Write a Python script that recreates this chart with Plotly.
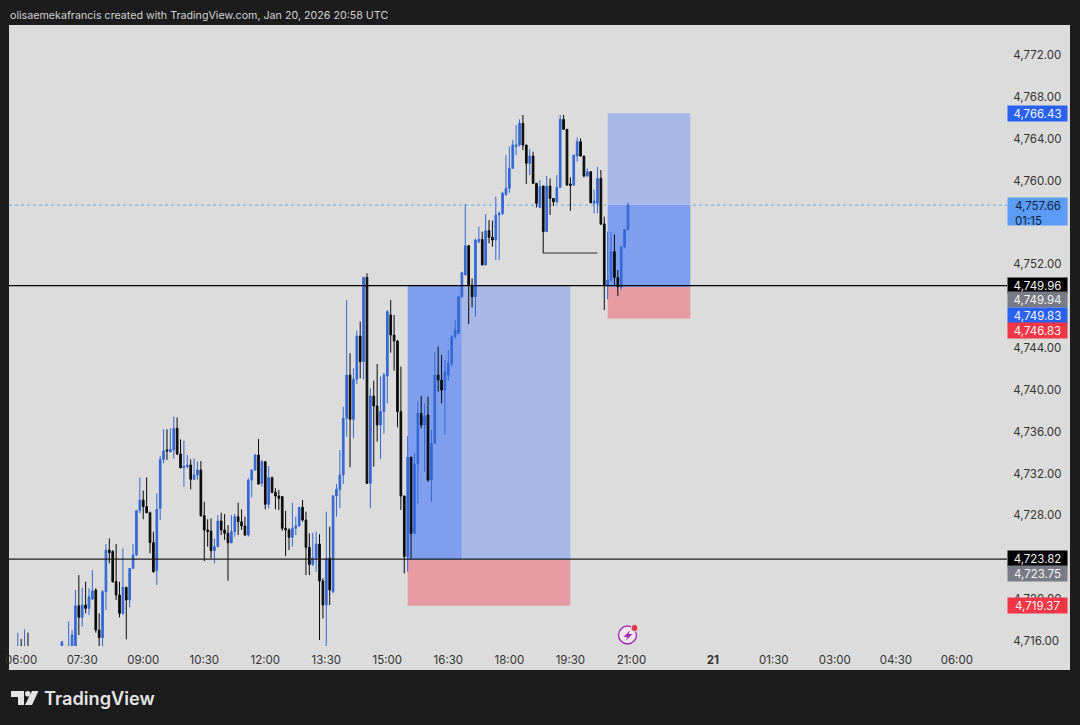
import pandas as pd
import plotly.graph_objects as go

# 5-minute bars, first one is 05:55 on Jan 20, last one 20:55. None = bar sits below the pane
bar_start = "2026-01-20 05:55"
opens = [
    4714.5, 4715.5, 4714.6, 4715.4, None, None, None, None, None, None, None, None, None,
    4715.0, None, 4715.0, 4715.0, 4715.5, 4719.37, 4718.26, 4719.44, 4719.12, 4720.01,
    4720.87, 4717.05, 4716.32, 4720.71, 4724.69, 4724.54, 4721.67, 4720.39, 4718.64, 4721.13,
    4719.92, 4722.94, 4724.22, 4728.45, 4729.47, 4728.84, 4728.26, 4725.40, 4722.72, 4728.68,
    4733.36, 4734.25, 4734.09, 4734.25, 4736.32, 4733.87, 4732.56, 4732.66, 4732.82, 4731.45,
    4731.86, 4732.34, 4727.98, 4726.61, 4726.51, 4724.63, 4725.01, 4727.47, 4726.61, 4726.29,
    4725.39, 4726.45, 4727.88, 4727.40, 4726.99, 4726.13, 4731.38, 4732.34, 4733.77, 4731.07,
    4733.14, 4729.06, 4731.61, 4730.21, 4729.86, 4729.79, 4726.77, 4726.61, 4725.91, 4726.77,
    4726.99, 4728.77, 4727.56, 4724.95, 4723.32, 4723.90, 4725.27, 4721.73, 4719.44, 4723.90,
    4720.71, 4729.86, 4730.49, 4731.86, 4737.28, 4741.42, 4737.18, 4741.00, 4745.15, 4742.69,
    4750.75, 4731.07, 4739.41, 4738.46, 4736.64, 4737.92, 4741.32, 4747.15, 4745.24, 4744.67,
    4737.92, 4729.86, 4724.06, 4733.55, 4726.29, 4732.91, 4737.76, 4736.64, 4737.60, 4731.38,
    4734.89, 4741.42, 4740.94, 4739.98, 4741.42, 4742.53, 4745.08, 4745.40, 4748.90, 4750.98,
    4753.78, 4750.02, 4748.90, 4754.16, 4754.38, 4751.93, 4755.21, 4754.58, 4754.32, 4756.71,
    4756.87, 4758.62, 4759.26, 4761.17, 4763.24, 4763.40, 4765.47, 4763.40, 4761.65, 4762.35,
    4759.74, 4757.44, 4759.48, 4755.12, 4759.48, 4758.30, 4757.98, 4759.35, 4765.85, 4764.90,
    4759.67, 4759.58, 4762.35, 4763.72, 4762.35, 4760.44, 4760.85, 4757.82, 4757.82, 4760.21,
    4755.85, 4750.02, 4750.50, 4753.21, 4750.75, 4749.80, 4753.68, 4755.34,
]
highs = [
    4716.8, 4716.2, 4717.1, 4716.8, None, None, None, None, None, None, None, None, None,
    4715.93, None, 4717.85, 4717.05, 4720.87, 4722.30, 4721.09, 4721.67, 4721.03, 4722.78,
    4721.03, 4718.64, 4720.87, 4725.27, 4725.81, 4724.69, 4725.27, 4721.67, 4724.85, 4721.13,
    4722.94, 4725.27, 4728.52, 4731.61, 4730.38, 4731.64, 4728.36, 4726.45, 4730.11, 4733.68,
    4736.23, 4736.23, 4736.32, 4737.44, 4737.37, 4735.27, 4735.14, 4733.77, 4733.36, 4733.45,
    4733.14, 4733.20, 4729.31, 4727.63, 4727.72, 4725.81, 4728.04, 4728.26, 4728.13, 4727.08,
    4728.04, 4728.13, 4729.22, 4728.58, 4727.88, 4731.54, 4732.40, 4733.87, 4735.30, 4733.30,
    4733.20, 4732.72, 4731.70, 4730.59, 4730.43, 4729.86, 4728.45, 4726.77, 4729.22, 4727.88,
    4728.84, 4729.47, 4728.36, 4726.29, 4726.35, 4726.45, 4726.22, 4721.99, 4728.36, 4726.92,
    4729.95, 4731.00, 4734.25, 4738.39, 4748.59, 4743.49, 4742.06, 4745.66, 4746.52, 4750.82,
    4751.14, 4740.15, 4740.88, 4742.47, 4741.26, 4741.64, 4747.63, 4748.59, 4747.15, 4744.76,
    4742.22, 4729.86, 4735.59, 4733.62, 4733.98, 4738.87, 4739.41, 4738.71, 4739.35, 4736.16,
    4743.65, 4744.13, 4743.33, 4742.85, 4743.81, 4745.24, 4746.67, 4748.90, 4751.29, 4757.76,
    4753.78, 4750.66, 4754.48, 4755.59, 4755.12, 4756.80, 4756.23, 4756.17, 4758.46, 4757.03,
    4758.94, 4762.44, 4763.24, 4763.88, 4765.31, 4765.85, 4766.27, 4763.40, 4762.99, 4762.76,
    4759.74, 4760.05, 4759.48, 4760.44, 4760.21, 4758.30, 4760.53, 4766.27, 4766.27, 4764.90,
    4760.31, 4762.44, 4764.13, 4764.04, 4762.35, 4761.17, 4760.91, 4759.16, 4761.33, 4761.01,
    4756.55, 4755.12, 4755.12, 4754.86, 4751.45, 4753.68, 4755.34, 4757.89,
]
lows = [
    4714.0, 4714.3, 4714.2, 4714.4, None, None, None, None, None, None, None, None, None,
    4714.8, None, 4714.7, 4714.6, 4715.0, 4716.57, 4717.37, 4718.64, 4718.48, 4719.92,
    4716.79, 4715.3, 4715.3, 4718.96, 4723.42, 4721.57, 4719.92, 4718.26, 4718.48, 4716.16,
    4719.21, 4722.88, 4724.12, 4728.20, 4727.63, 4728.20, 4724.38, 4722.53, 4721.35, 4727.56,
    4732.98, 4733.30, 4734.00, 4733.45, 4733.77, 4732.50, 4730.75, 4732.50, 4730.49, 4731.38,
    4731.38, 4727.88, 4723.64, 4725.01, 4723.90, 4723.42, 4724.95, 4726.13, 4725.65, 4721.76,
    4725.33, 4725.97, 4726.13, 4726.61, 4726.03, 4725.97, 4729.73, 4732.28, 4730.91, 4730.75,
    4728.58, 4728.68, 4730.11, 4728.58, 4728.52, 4726.54, 4724.12, 4724.69, 4725.01, 4726.13,
    4726.92, 4727.40, 4722.30, 4722.30, 4723.16, 4722.62, 4716.09, 4718.16, 4715.52, 4719.44,
    4720.55, 4727.88, 4728.68, 4731.00, 4735.53, 4732.60, 4735.37, 4740.56, 4741.10, 4741.00,
    4731.00, 4728.68, 4732.66, 4735.05, 4733.39, 4735.78, 4738.71, 4743.55, 4741.83, 4736.42,
    4728.52, 4722.46, 4722.62, 4723.90, 4726.22, 4729.15, 4736.32, 4732.18, 4731.22, 4729.31,
    4734.82, 4739.83, 4738.71, 4735.68, 4740.88, 4742.21, 4744.92, 4745.34, 4748.84, 4750.98,
    4746.29, 4747.88, 4747.00, 4754.00, 4751.93, 4751.93, 4754.00, 4753.68, 4752.41, 4752.41,
    4756.71, 4758.62, 4758.84, 4761.17, 4762.44, 4763.24, 4762.92, 4759.67, 4760.53, 4759.67,
    4757.44, 4757.35, 4755.12, 4755.12, 4756.71, 4757.57, 4757.82, 4759.35, 4764.90, 4759.48,
    4757.12, 4759.48, 4761.81, 4762.28, 4760.31, 4760.37, 4757.82, 4756.87, 4756.87, 4755.75,
    4747.63, 4748.65, 4750.34, 4750.02, 4748.97, 4749.54, 4753.52, 4755.21,
]
closes = [
    4715.4, 4714.8, 4715.4, 4714.9, None, None, None, None, None, None, None, None, None,
    4715.93, None, 4715.5, 4716.57, 4719.37, 4718.26, 4719.44, 4719.12, 4720.23, 4720.78,
    4717.05, 4716.32, 4720.71, 4724.69, 4724.44, 4721.67, 4720.39, 4718.64, 4721.13, 4719.92,
    4722.94, 4724.22, 4728.45, 4729.47, 4728.84, 4728.26, 4725.40, 4722.62, 4728.58, 4733.36,
    4734.16, 4734.16, 4734.32, 4736.32, 4733.87, 4732.56, 4732.72, 4732.82, 4731.45, 4731.86,
    4732.34, 4727.98, 4726.61, 4726.45, 4724.63, 4725.01, 4727.47, 4726.61, 4726.29, 4725.39,
    4726.45, 4727.88, 4727.40, 4726.99, 4726.13, 4731.38, 4732.34, 4733.77, 4731.00, 4733.14,
    4729.06, 4731.61, 4730.21, 4729.86, 4729.63, 4726.77, 4726.61, 4725.91, 4726.77, 4726.99,
    4728.77, 4727.56, 4724.95, 4723.32, 4723.90, 4725.27, 4721.73, 4719.44, 4723.90, 4720.87,
    4729.86, 4730.49, 4731.86, 4737.28, 4741.42, 4737.18, 4741.00, 4745.15, 4742.69, 4750.75,
    4731.07, 4739.41, 4738.46, 4736.64, 4737.92, 4741.42, 4747.47, 4745.24, 4744.67, 4737.92,
    4729.86, 4724.06, 4733.55, 4726.29, 4732.91, 4737.76, 4736.64, 4737.44, 4731.38, 4734.89,
    4741.42, 4740.94, 4739.98, 4741.74, 4742.53, 4745.08, 4745.72, 4748.90, 4751.20, 4753.78,
    4750.02, 4748.90, 4754.32, 4754.38, 4751.93, 4755.21, 4754.58, 4754.32, 4756.71, 4756.87,
    4758.78, 4759.26, 4761.17, 4763.40, 4763.40, 4765.47, 4763.40, 4761.65, 4762.35, 4759.74,
    4757.82, 4759.42, 4755.12, 4759.48, 4758.30, 4757.98, 4759.35, 4765.85, 4764.90, 4759.58,
    4759.54, 4762.44, 4763.72, 4762.35, 4760.44, 4760.85, 4757.89, 4758.05, 4760.21, 4755.85,
    4750.02, 4750.50, 4753.21, 4750.75, 4749.86, 4753.68, 4755.34, 4757.66,
]

# 4724, 4748 and 4756 are hidden behind the price tags
y_ticks = [4716, 4720, 4728, 4732, 4736, 4740, 4744, 4752, 4760, 4764, 4768, 4772]
x_ticks = ["2026-01-20 06:00", "2026-01-20 07:30", "2026-01-20 09:00", "2026-01-20 10:30",
           "2026-01-20 12:00", "2026-01-20 13:30", "2026-01-20 15:00", "2026-01-20 16:30",
           "2026-01-20 18:00", "2026-01-20 19:30", "2026-01-20 21:00", "2026-01-21 00:00",
           "2026-01-21 01:30", "2026-01-21 03:00", "2026-01-21 04:30", "2026-01-21 06:00"]
x_labels = ["06:00", "07:30", "09:00", "10:30", "12:00", "13:30", "15:00", "16:30",
            "18:00", "19:30", "21:00", "<b>21</b>", "01:30", "03:00", "04:30", "06:00"]

# long position tools
left_start, left_now, left_end = "2026-01-20 15:30", "2026-01-20 16:50", "2026-01-20 19:30"
left_entry, left_target, left_stop = 4723.75, 4749.94, 4719.37
right_start, right_end = "2026-01-20 20:25", "2026-01-20 23:27"
right_entry, right_target, right_stop, last_price = 4749.83, 4766.43, 4746.83, 4757.66
line_upper, line_lower = 4749.96, 4723.82
bracket_x = ["2026-01-20 18:50", "2026-01-20 18:50", "2026-01-20 20:10"]
bracket_y = [4755.08, 4753.08, 4753.08]

# price tags: value, text, fill, shift in px to stop them overlapping
tag_values = [4766.43, 4749.96, 4749.94, 4749.83, 4746.83, 4723.82, 4723.75, 4719.37]
tag_colors = ["#2962f0", "#000000", "#787b86", "#2962f0", "#f23645", "#000000", "#787b86", "#f23645"]
tag_shifts = [0, 0.5, -14, -28.5, -12.5, 0.5, -14, 0]

BG = "#1c1c1c"
PANE = "#dcdcdc"
UP = "#3568d4"
DOWN = "#0a0a0a"
FONT = "Inter, 'Liberation Sans', sans-serif"
M_L, M_T, PW, PH = 9, 25, 998, 621


def px(x):
    return (x - M_L) / PW


def py(y):
    return (M_T + PH - y) / PH


def path(points):
    return "M" + " L".join(f"{px(a):.5f},{py(b):.5f}" for a, b in points) + " Z"


bars = pd.date_range(bar_start, periods=len(closes), freq="5min")

fig = go.Figure()
fig.add_trace(go.Scatter(x=bracket_x, y=bracket_y, mode="lines",
                         line=dict(color="#2e2e2e", width=1.2), hoverinfo="skip"))
fig.add_trace(go.Candlestick(
    x=bars, open=opens, high=highs, low=lows, close=closes, whiskerwidth=0,
    increasing=dict(line=dict(color=UP, width=1), fillcolor=UP),
    decreasing=dict(line=dict(color=DOWN, width=1), fillcolor=DOWN)))

shapes = [
    # the pale panel also runs under both axes
    dict(type="rect", xref="paper", yref="paper", x0=0, x1=px(1070), y0=py(670), y1=1,
         fillcolor=PANE, line_width=0, layer="below"),
    dict(type="rect", x0=left_start, x1=left_now, y0=left_entry, y1=left_target,
         fillcolor="#7f9fee", line_width=0, layer="below"),
    dict(type="rect", x0=left_now, x1=left_end, y0=left_entry, y1=left_target,
         fillcolor="#a7b8e6", line_width=0, layer="below"),
    dict(type="rect", x0=left_start, x1=left_end, y0=left_stop, y1=left_entry,
         fillcolor="#e79ca3", line_width=0, layer="below"),
    dict(type="rect", x0=right_start, x1=right_end, y0=last_price, y1=right_target,
         fillcolor="#a7b8e6", line_width=0, layer="below"),
    dict(type="rect", x0=right_start, x1=right_end, y0=right_entry, y1=last_price,
         fillcolor="#7f9fee", line_width=0, layer="below"),
    dict(type="rect", x0=right_start, x1=right_end, y0=right_stop, y1=right_entry,
         fillcolor="#e79ca3", line_width=0, layer="below"),
    dict(type="line", xref="paper", x0=0, x1=1, y0=last_price, y1=last_price,
         line=dict(color="#6fa8d8", width=1, dash="dot"), layer="below"),
    dict(type="line", xref="paper", x0=0, x1=1, y0=line_upper, y1=line_upper,
         line=dict(color="#000000", width=1.2)),
    dict(type="line", xref="paper", x0=0, x1=1, y0=line_lower, y1=line_lower,
         line=dict(color="#1e1e1e", width=1.2)),
    # lightning badge
    dict(type="circle", xref="paper", yref="paper", x0=px(618.5), x1=px(636.5), y0=py(644), y1=py(626),
         fillcolor="#f1e8f3", line=dict(color="#a02cb4", width=1.4)),
    dict(type="path", xref="paper", yref="paper",
         path=path([(630.5, 630), (623.5, 637), (627.5, 637), (625.5, 641), (632.5, 634), (628.5, 634)]),
         fillcolor="#a02cb4", line_width=0),
    dict(type="circle", xref="paper", yref="paper", x0=px(631), x1=px(638), y0=py(631.5), y1=py(624.5),
         fillcolor="#e5374a", line=dict(color=PANE, width=1)),
    # TradingView mark
    dict(type="path", xref="paper", yref="paper",
         path=path([(11, 691), (24, 691), (24, 705), (18, 705), (18, 697), (11, 697)]),
         fillcolor="#e4e4e4", line_width=0),
    dict(type="circle", xref="paper", yref="paper", x0=px(25), x1=px(30.5), y0=py(696.6), y1=py(691),
         fillcolor="#e4e4e4", line_width=0),
    dict(type="path", xref="paper", yref="paper",
         path=path([(32, 691), (38.5, 691), (32, 705), (25, 705)]),
         fillcolor="#e4e4e4", line_width=0),
]

annotations = [
    dict(xref="paper", yref="paper", x=px(8), y=py(16), xanchor="left", yanchor="middle", showarrow=False,
         text="olisaemekafrancis created with TradingView.com, Jan 20, 2026 20:58 UTC",
         font=dict(family=FONT, size=10.7, color="#d2d2d2")),
    dict(xref="paper", yref="paper", x=px(42), y=py(698), xanchor="left", yanchor="middle", showarrow=False,
         text="TradingView", font=dict(family=FONT, size=18.2, weight=600, color="#e4e4e4")),
    # blue block first, its two lines of text sit on top with the same inset as the other tags
    dict(xref="paper", x=1, y=last_price, xanchor="left", yanchor="top", yshift=8, showarrow=False,
         text=" ", width=59, height=27, bgcolor="#5b9cf6", borderpad=0),
    dict(xref="paper", x=1, y=last_price, xanchor="left", yanchor="top", yshift=8, xshift=6, showarrow=False,
         text="4,757.66<br>01:15", align="left", font=dict(family=FONT, size=11.5, color="#10243f")),
]
for value, color, shift in zip(tag_values, tag_colors, tag_shifts):
    annotations.append(dict(
        xref="paper", x=1, y=value, xanchor="left", yanchor="middle", yshift=shift, showarrow=False,
        text=f"{value:,.2f}", width=59, height=15, bgcolor=color, borderpad=0,
        font=dict(family=FONT, size=11.5, color="#f4f4f4")))

fig.update_layout(
    width=1080, height=725, showlegend=False,
    paper_bgcolor=BG, plot_bgcolor=PANE,
    margin=dict(l=M_L, r=1080 - M_L - PW, t=M_T, b=725 - M_T - PH, pad=0),
    shapes=shapes, annotations=annotations,
    font=dict(family=FONT, size=11.5, color="#333333"))
fig.update_xaxes(
    range=["2026-01-20 05:42", "2026-01-21 07:14"], automargin=False,
    rangebreaks=[dict(bounds=[22, 23], pattern="hour")],
    rangeslider_visible=False, showgrid=False, zeroline=False, showline=False,
    tickmode="array", tickvals=x_ticks, ticktext=x_labels,
    ticks="outside", ticklen=3, tickcolor=PANE, tickangle=0)
fig.update_yaxes(
    range=[4715.52, 4774.87], side="right", automargin=False,
    showgrid=False, zeroline=False, showline=False,
    tickmode="array", tickvals=y_ticks, tickformat=",.2f",
    ticks="outside", ticklen=3, tickcolor=PANE)

# page margin off so the picture sits at the window corner
fig.write_html("out.html", config=dict(displayModeBar=False),
               post_script="document.body.style.margin='0';document.documentElement.style.overflow='hidden';")
